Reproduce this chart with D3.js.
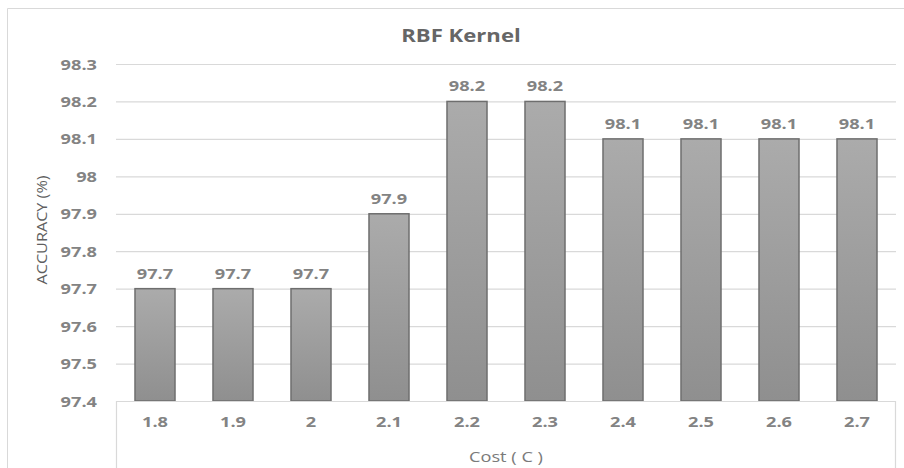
<!DOCTYPE html>
<html>
<head>
<meta charset="utf-8">
<script src="https://cdn.jsdelivr.net/npm/d3@7"></script>
<style>
  html, body { margin: 0; padding: 0; background: #fff; }
  svg { display: block; }
  text { font-family: "Open Sans", "DejaVu Sans", sans-serif; }
</style>
</head>
<body>
<svg id="chart" width="904" height="468"></svg>
<script>
// Accuracy of the RBF-kernel classifier for each value of the cost parameter C
const costs = ["1.8", "1.9", "2", "2.1", "2.2", "2.3", "2.4", "2.5", "2.6", "2.7"];
const accuracy = [97.7, 97.7, 97.7, 97.9, 98.2, 98.2, 98.1, 98.1, 98.1, 98.1];
const yTicks = [97.4, 97.5, 97.6, 97.7, 97.8, 97.9, 98, 98.1, 98.2, 98.3];
const title = "RBF Kernel";
const xTitle = "Cost ( C )";
const yTitle = "ACCURACY (%)";

const W = 904, H = 468;
const plot = { left: 116, right: 896, top: 64, bottom: 401 };
const textStretch = 1.3;   // wide lettering of the chart's typeface

const svg = d3.select("#chart");

// widen a text run along its own direction, keeping its anchor in place
function widen(sel, k) {
  sel.each(function () {
    const len = this.getComputedTextLength();
    d3.select(this).attr("textLength", len * k).attr("lengthAdjust", "spacingAndGlyphs");
  });
}

const x = d3.scaleBand()
  .domain(costs)
  .range([plot.left, plot.right])
  .paddingInner(0.487)
  .paddingOuter(0.2435);

const y = d3.scaleLinear()
  .domain([d3.min(yTicks), d3.max(yTicks)])
  .range([plot.bottom, plot.top]);

// chart frame
svg.append("path")
  .attr("d", `M7.5,${H} V8.5 H${W}`)
  .attr("fill", "none").attr("stroke", "#d9d9d9").attr("stroke-width", 1);

// gradient for bar fill
const defs = svg.append("defs");
const grad = defs.append("linearGradient")
  .attr("id", "barFill").attr("x1", 0).attr("y1", 0).attr("x2", 0).attr("y2", 1);
grad.append("stop").attr("offset", "0%").attr("stop-color", "#ababab");
grad.append("stop").attr("offset", "100%").attr("stop-color", "#8f8f8f");

// y axis: gridlines and tick labels
const yAxis = d3.axisLeft(y)
  .tickValues(yTicks)
  .tickSize(-(plot.right - plot.left))
  .tickPadding(19)
  .tickFormat(d => String(+d.toFixed(1)));

const gy = svg.append("g")
  .attr("transform", `translate(${plot.left},0)`)
  .call(yAxis);
gy.select(".domain").remove();
gy.selectAll(".tick line").attr("stroke", "#d9d9d9").attr("stroke-width", 1.2);
gy.selectAll(".tick text")
  .attr("fill", "#838383")
  .attr("font-size", 14)
  .attr("font-weight", "bold")
  .attr("dy", "0.36em")
  .call(widen, textStretch);

// bars
svg.append("g").selectAll("rect")
  .data(accuracy)
  .join("rect")
  .attr("x", (d, i) => x(costs[i]))
  .attr("y", d => y(d))
  .attr("width", x.bandwidth())
  .attr("height", d => y(y.domain()[0]) - y(d))
  .attr("fill", "url(#barFill)")
  .attr("stroke", "#6e6e6e")
  .attr("stroke-width", 1.5);

// value labels
svg.append("g").selectAll("text")
  .data(accuracy)
  .join("text")
  .attr("x", (d, i) => x(costs[i]) + x.bandwidth() / 2)
  .attr("y", d => y(d) - 10)
  .attr("text-anchor", "middle")
  .attr("fill", "#838383")
  .attr("font-size", 14)
  .attr("font-weight", "bold")
  .text(d => String(d))
  .call(widen, textStretch);

// category axis: frame line along the baseline plus the side rules
const gx = svg.append("g")
  .attr("transform", `translate(0,${plot.bottom})`)
  .call(d3.axisBottom(x).tickSize(0).tickPadding(16));
gx.select(".domain").remove();
gx.selectAll(".tick text")
  .attr("fill", "#838383")
  .attr("font-size", 14)
  .attr("font-weight", "bold")
  .call(widen, textStretch);

svg.append("path")
  .attr("d", `M${plot.left + 0.5},${H} V${plot.bottom + 0.5} H${plot.right - 0.5} V${H}`)
  .attr("fill", "none").attr("stroke", "#d9d9d9").attr("stroke-width", 1.2);

// titles
svg.append("text")
  .attr("x", 461).attr("y", 42)
  .attr("text-anchor", "middle")
  .attr("fill", "#666666")
  .attr("font-size", 17)
  .attr("font-weight", "bold")
  .text(title)
  .call(widen, textStretch);

svg.append("text")
  .attr("x", (plot.left + plot.right) / 2).attr("y", 462)
  .attr("text-anchor", "middle")
  .attr("fill", "#7a7a7a")
  .attr("font-size", 14)
  .text(xTitle)
  .call(widen, textStretch);

svg.append("text")
  .attr("transform", `translate(47,230) rotate(-90)`)
  .attr("text-anchor", "middle")
  .attr("fill", "#5f5f5f")
  .attr("font-size", 15)
  .text(yTitle)
  .call(widen, 1.08);
</script>
</body>
</html>
